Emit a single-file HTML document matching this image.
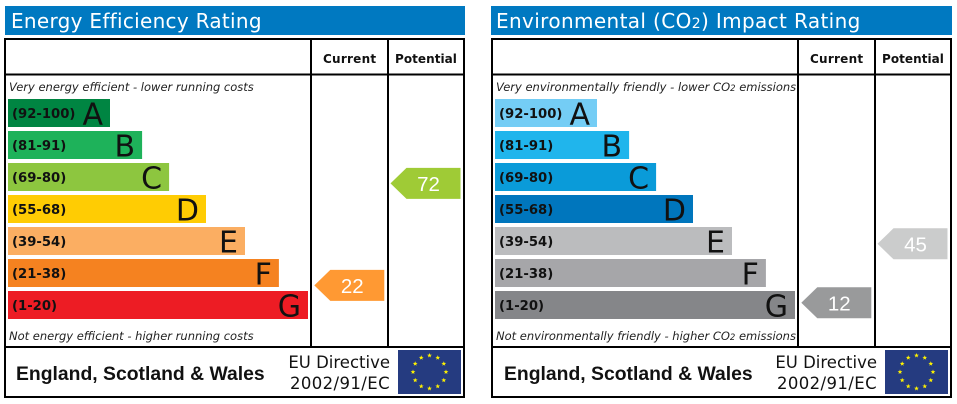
<!DOCTYPE html>
<html lang="en">
<head>
<meta charset="utf-8">
<title>Energy and Environmental Ratings</title>
<style>
html,body{margin:0;padding:0;background:#fff;width:957px;height:404px;overflow:hidden}
svg{display:block}
text{font-family:"DejaVu Sans","Liberation Sans",sans-serif}
.title{font-size:20px;fill:#fff;letter-spacing:.31px}
.head{font-size:12px;font-weight:bold;fill:#111;letter-spacing:.25px}
.head-tight{letter-spacing:.05px}
.cap{font-size:11.5px;font-style:italic;fill:#222}
.band{font-size:13.2px;font-weight:bold;fill:#111}
.letter{font-size:30px;fill:#111}
.val{font-family:"Liberation Sans",sans-serif;font-size:20.5px;fill:#fff;text-anchor:middle}
.region{font-family:"Liberation Sans",sans-serif;font-size:19.35px;font-weight:bold;fill:#111}
.eu{font-size:16.5px;fill:#111;text-anchor:end}
.eu-wide{letter-spacing:.4px}
</style>
</head>
<body>
<svg id="chart" width="957" height="404" viewBox="0 0 957 404" xmlns="http://www.w3.org/2000/svg"></svg>
<script>
const bandRanges = ["(92-100)", "(81-91)", "(69-80)", "(55-68)", "(39-54)", "(21-38)", "(1-20)"];
const bandLetters = ["A", "B", "C", "D", "E", "F", "G"];
const bandLow = [92, 81, 69, 55, 39, 21, 1];
const bandHigh = [100, 91, 80, 68, 54, 38, 20];
const bandLengths = [34, 44.7, 53.7, 66, 79, 90.3, 100];
const energyColors = ["#008542", "#1eb25a", "#8dc63f", "#ffcc03", "#fbae62", "#f58220", "#ed1c24"];
const enviroColors = ["#74cdf5", "#20b5ec", "#0a9bd9", "#0076bd", "#bbbcbe", "#a6a6a9", "#858689"];
const energyCurrent = 22;
const energyPotential = 72;
const enviroCurrent = 12;
const enviroPotential = 45;

const svg = document.getElementById('chart');
const NS = 'http://www.w3.org/2000/svg';

function make(tag, attrs, parent, txt) {
  const el = document.createElementNS(NS, tag);
  for (const k in attrs) el.setAttribute(k, attrs[k]);
  if (txt !== undefined) el.textContent = txt;
  parent.appendChild(el);
  return el;
}

/* axis functions */
function barWidth(v) { return v * 3; }
function bandIndex(score) {
  for (let i = 0; i < bandLow.length; i++) if (score >= bandLow[i]) return i;
  return bandLow.length - 1;
}
function scoreY(score) {
  const i = bandIndex(score);
  const bottom = 127 + i * 32;
  return bottom - (score - bandLow[i]) / (bandHigh[i] - bandLow[i]) * 28;
}

function rating(parent, x, score, color, name) {
  const cy = scoreY(score);
  const pts = [[x, cy], [x + 16, cy - 15.5], [x + 70, cy - 15.5], [x + 70, cy + 15.5], [x + 16, cy + 15.5]];
  const arrow = make('polygon', { points: pts.map(p => p.join(',')).join(' '), fill: color }, parent);
  
  
  const label = make('text', { x: x + 38, y: cy + 7.5, class: 'val' }, parent, String(score));
  
  
}

function flag(parent, x, y) {
  const r = make('rect', { x: x, y: y, width: 63, height: 44, fill: '#253b80' }, parent);
  
  
  const cx = x + 31.5, cy = y + 22;
  for (let i = 0; i < 12; i++) {
    const a = i * Math.PI / 6;
    const sx = cx + 16.5 * Math.sin(a), sy = cy - 16.5 * Math.cos(a);
    const pts = [];
    for (let j = 0; j < 10; j++) {
      const q = j * Math.PI / 5, m = j % 2 ? 1.05 : 2.5;
      pts.push((sx + m * Math.sin(q)).toFixed(2) + ',' + (sy - m * Math.cos(q)).toFixed(2));
    }
    const star = make('polygon', { points: pts.join(' '), fill: '#fff200' }, parent);
    
    
  }
}

function subText(parent, attrs, before, after, subSize, name) {
  const t = make('text', attrs, parent);
  
  
  t.appendChild(document.createTextNode(before));
  if (after !== null) {
    const s = make('tspan', { 'font-size': subSize }, t, '2');
    
    
    t.appendChild(document.createTextNode(after));
  }
  return t;
}

function panel(dx, cfg) {
  const g = make('g', { transform: 'translate(' + dx + ',0)' }, svg);
  
  

  const bar = make('rect', { x: cfg.barX, y: 6, width: 465 - cfg.barX, height: 29, fill: '#0079c1' }, g);
  
  
  const ttl = subText(g, { x: cfg.titleX, y: 28, class: 'title' }, cfg.title[0], cfg.title[1], '14px', cfg.name + '-title');
  ttl.style.letterSpacing = cfg.titleSpacing;

  const box = make('rect', { x: 5, y: 39, width: 459, height: 358, fill: '#fff', stroke: '#000', 'stroke-width': 2 }, g);
  
  
  const lines = [[5, 74.5, 464, 74.5], [5, 347, 464, 347], [311, 39, 311, 347], [388, 39, 388, 347]];
  lines.forEach(function (l) {
    const ln = make('line', { x1: l[0], y1: l[1], x2: l[2], y2: l[3], stroke: '#000', 'stroke-width': 2 }, g);
    
    
  });

  const h1 = make('text', { x: 323, y: 63, class: 'head' }, g, 'Current');
  
  
  const h2 = make('text', { x: 395, y: 63, class: 'head head-tight' }, g, 'Potential');
  
  

  subText(g, { x: 9, y: 91, class: 'cap' }, cfg.top[0], cfg.top[1], '8.5px', cfg.name + '-top-caption');
  subText(g, { x: 9, y: 340, class: 'cap' }, cfg.bottom[0], cfg.bottom[1], '8.5px', cfg.name + '-bottom-caption');

  bandLengths.forEach(function (v, i) {
    const y = 99 + i * 32;
    const w = barWidth(v);
    const r = make('rect', { x: 8, y: y, width: w, height: 28, fill: cfg.colors[i] }, g);
    
    
    const t = make('text', { x: 12, y: y + 19, class: 'band' }, g, bandRanges[i]);
    
    
    const L = make('text', { x: 8 + w - 7, y: y + 25.5, class: 'letter', 'text-anchor': 'end' }, g, bandLetters[i]);
    
    
  });

  rating(g, 314.3, cfg.current, cfg.arrowCurrent, cfg.name + '-current');
  rating(g, 390.5, cfg.potential, cfg.arrowPotential, cfg.name + '-potential');

  const reg = make('text', { x: 16 + cfg.regionShift, y: 380, class: 'region' }, g, 'England, Scotland & Wales');
  
  
  const e1 = make('text', { x: 390, y: 368, class: 'eu' }, g, 'EU Directive');
  
  
  const e2 = make('text', { x: 390, y: 389, class: 'eu eu-wide' }, g, '2002/91/EC');
  
  
  flag(g, 398, 350);
}

panel(0, {
  name: 'energy',
  barX: 5,
  titleX: 11,
  titleSpacing: '.29px',
  title: ['Energy Efficiency Rating', null],
  top: ['Very energy efficient - lower running costs', null],
  bottom: ['Not energy efficient - higher running costs', null],
  colors: energyColors,
  current: energyCurrent,
  potential: energyPotential,
  arrowCurrent: '#ff9933',
  arrowPotential: '#9fcb36',
  regionShift: 0
});
panel(487, {
  name: 'environmental',
  barX: 4,
  titleX: 9,
  titleSpacing: '.37px',
  title: ['Environmental (CO', ') Impact Rating'],
  top: ['Very environmentally friendly - lower CO', ' emissions'],
  bottom: ['Not environmentally friendly - higher CO', ' emissions'],
  colors: enviroColors,
  current: enviroCurrent,
  potential: enviroPotential,
  arrowCurrent: '#999a9b',
  arrowPotential: '#cbcccc',
  regionShift: 1
});
</script>
</body>
</html>
